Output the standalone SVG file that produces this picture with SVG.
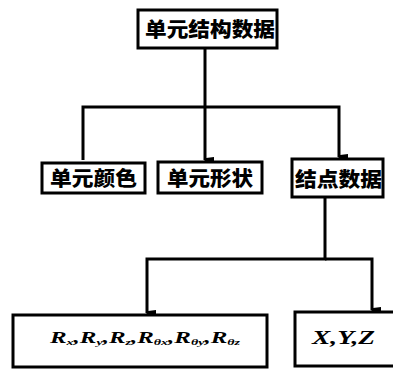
<svg xmlns="http://www.w3.org/2000/svg" width="393" height="369" viewBox="0 0 393 369">
<style>
.box{fill:#fff;stroke:#000;stroke-width:3}
.cn{font-family:"Noto Sans CJK SC","Noto Sans CJK JP",sans-serif;font-weight:900;font-size:20px;fill:#000}
.lat{font-family:"Liberation Serif",serif;font-style:italic;font-weight:bold;fill:#000}
.ln{fill:none;stroke:#000;stroke-width:3}
</style>
<defs>
<marker id="ar" markerWidth="8" markerHeight="10" refX="4" refY="9" orient="auto" markerUnits="userSpaceOnUse" viewBox="0 0 8 10">
<path d="M1,0 L7,0 L6,8 L4,10 L2,8 Z" fill="#000"/>
</marker>
</defs>
<rect width="393" height="369" fill="#fff"/>
<g id="connectors">
<path class="ln" d="M205,48 V160" marker-end="url(#ar)"/>
<path class="ln" d="M83,160 V107 H339 V157" marker-end="url(#ar)"/>
<path class="ln" d="M325,197 V259 H147 V313" marker-end="url(#ar)"/>
<path class="ln" d="M325,259 H372 V310" marker-end="url(#ar)"/>
</g>
<g id="n_root">
<rect class="box" x="138" y="10" width="139" height="38"/>
<text class="cn" x="145" y="37" textLength="130" lengthAdjust="spacingAndGlyphs">单元结构数据</text>
</g>
<g id="n_color">
<rect class="box" x="42" y="163" width="103" height="30"/>
<text class="cn" x="50" y="186" textLength="87" lengthAdjust="spacingAndGlyphs">单元颜色</text>
</g>
<g id="n_shape">
<rect class="box" x="158" y="162" width="104" height="31"/>
<text class="cn" x="167" y="186" textLength="86" lengthAdjust="spacingAndGlyphs">单元形状</text>
</g>
<g id="n_node">
<rect class="box" x="292" y="159" width="91" height="38"/>
<text class="cn" x="295" y="187" textLength="87" lengthAdjust="spacingAndGlyphs">结点数据</text>
</g>
<g id="n_r">
<rect class="box" x="13" y="315" width="254" height="52"/>
<text class="lat" x="50" y="343" font-size="16" textLength="190" lengthAdjust="spacingAndGlyphs">R<tspan font-size="9" dy="2">x</tspan><tspan dy="-2">,R</tspan><tspan font-size="9" dy="2">y</tspan><tspan dy="-2">,R</tspan><tspan font-size="9" dy="2">z</tspan><tspan dy="-2">,R</tspan><tspan font-size="9" dy="2">θx</tspan><tspan dy="-2">,R</tspan><tspan font-size="9" dy="2">θy</tspan><tspan dy="-2">,R</tspan><tspan font-size="9" dy="2">θz</tspan></text>
</g>
<g id="n_xyz">
<rect class="box" x="295" y="312" width="104" height="54"/>
<text class="lat" x="312" y="344" font-size="18" textLength="63" lengthAdjust="spacingAndGlyphs">X,Y,Z</text>
</g>
</svg>
